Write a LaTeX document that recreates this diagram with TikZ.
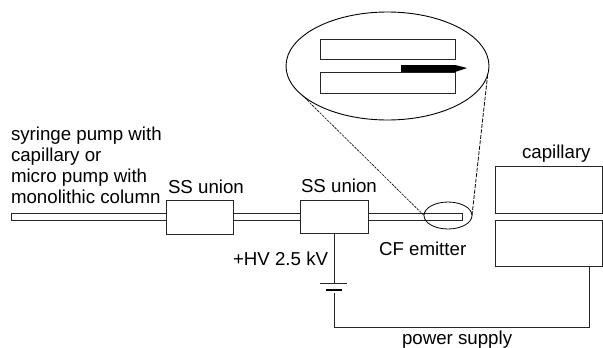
\documentclass[tikz,border=0pt]{standalone}
\usepackage{fontspec}
\usetikzlibrary{shapes.geometric}
\setmainfont{Liberation Sans}
\begin{document}
\begin{tikzpicture}[x=1pt,y=-1pt,
  lab/.style={anchor=base west,inner sep=0pt,outer sep=0pt,font=\fontsize{18.7}{21}\selectfont},
  boxy/.style={draw=black!85,fill=white,line width=1pt,rectangle,inner sep=0pt,outer sep=0pt},
  wire/.style={draw=black!85,line width=1pt},
  zoomleft/.style={draw=black,line width=0.6pt,dash pattern=on 2.5pt off 1pt},
  zoomright/.style={draw=black,line width=0.8pt,dash pattern=on 4pt off 1.5pt}]
\useasboundingbox (0,0) rectangle (603,348);
% tube
\node[boxy,minimum width=451pt,minimum height=7pt] (tube) at (236.5,216.5) {};
% unions
\node[boxy,minimum width=67pt,minimum height=34pt] (u1) at (199.5,217) {};
\node[boxy,minimum width=68pt,minimum height=33pt] (u2) at (334,216.5) {};
% capillary blocks
\node[boxy,minimum width=107pt,minimum height=47pt] (c1) at (549,189.5) {};
\node[boxy,minimum width=107pt,minimum height=46pt] (c2) at (549,243) {};
% ellipses
\node[draw=black,line width=0.8pt,ellipse,minimum width=48pt,minimum height=27pt,inner sep=0pt,outer sep=0pt] (small) at (448,215.5) {};
\node[draw=black,line width=0.9pt,ellipse,minimum width=203pt,minimum height=108pt,inner sep=0pt,outer sep=0pt] (big) at (387.5,66) {};
% inner rects
\node[boxy,minimum width=135pt,minimum height=20pt] (r1) at (387.5,49) {};
\node[boxy,minimum width=135pt,minimum height=21pt] (r2) at (387.5,82.5) {};
% emitter tip
\fill[black] (401,65) -- (455,65) -- (467,68) -- (455,72) -- (401,72) -- cycle;
% dashed zoom lines
\draw[zoomleft] (big.199) -- (small.west);
\draw[zoomright] (big.-5) -- (small.east);
% battery
\coordinate (plate) at (334,283);
\coordinate (plateb) at (334,293);
\coordinate (bl) at (334,327);
\coordinate (br) at (589,327);
\draw[wire] (u2.south) -- (plate);
\draw[wire] (320,283) -- (347,283);
\draw[black,line width=2.2pt] (326,290) -- (342,290);
\draw[wire] (plateb) -- (bl) -- (br) -- (br |- c2.south);
% labels
\node[lab] (t1) at (11,140) {syringe pump with};
\node[lab] (t2) at (11,161) {capillary or};
\node[lab] (t3) at (11,182) {micro pump with};
\node[lab] (t4) at (11,203) {monolithic column};
\node[lab] (t5) at (168,193) {SS union};
\node[lab] (t6) at (301,192) {SS union};
\node[lab] (t7) at (522,158) {capillary};
\node[lab] (t8) at (379,255) {CF emitter};
\node[lab] (t9) at (233,265) {+HV 2.5 kV};
\node[lab] (t10) at (402,344) {power supply};
\end{tikzpicture}
\end{document}
